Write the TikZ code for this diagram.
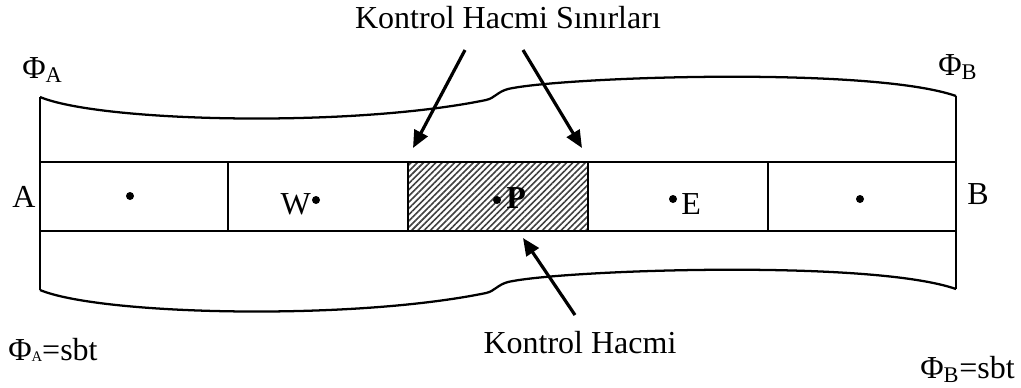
\documentclass[tikz,border=0pt]{standalone}
\usepackage{fontspec}
\setmainfont{Liberation Serif}
\usetikzlibrary{arrows.meta,patterns.meta}
\tikzset{
  borde/.style={draw=black,line width=1.7pt},
  rayado/.style={pattern={Lines[angle=45,distance=3.3pt,line width=1.2pt]},pattern color=black!75},
  flecha/.style={-{Triangle[length=13pt,width=11pt]},line width=2.4pt},
  texto/.style={font=\fontsize{24}{28}\selectfont,inner sep=0pt},
  punto/.style={circle,fill=black,inner sep=0pt,minimum size=6pt},
}
\begin{document}
\begin{tikzpicture}[x=0.75pt,y=-0.75pt]
  \useasboundingbox (0,0) rectangle (1021,387);
  % hucre P
  \fill[rayado] (408,162) rectangle (588,231);
  \foreach \xa/\xb in {40/228,228/408,408/588,588/768,768/956}
    \draw[borde] (\xa,162) rectangle (\xb,231);
  % kontrol hacmi egrileri
  \foreach \dy in {0,193}
    \draw[borde,shift={(0,\dy)}] (40,97) .. controls (100,122) and (350,128) .. (486,100)
      .. controls (495,98) and (497,92) .. (508,89)
      .. controls (560,77) and (870,66) .. (956,96);
  \draw[borde] (40,97) -- (40,290);
  \draw[borde] (956,96) -- (956,289);
  % noktalar
  \node[punto] (d1) at (130,196) {};
  \node[punto] (dW) at (316,200) {};
  \node[punto] (dP) at (497,200) {};
  \node[punto] (dE) at (673,199) {};
  \node[punto] (d5) at (860,199) {};
  \node[texto,anchor=base east] (lW) at (311,214) {W};
  \node[texto,anchor=base west] (lP) at (506,208) {\textbf{P}};
  \node[texto,anchor=base west] (lE) at (681,214) {E};
  % etiketler
  \node[texto] (lA) at (24,197) {A};
  \node[texto] (lB) at (978,194) {B};
  \node[texto,anchor=base west] (fiA) at (22,78) {Φ\textsubscript{A}};
  \node[texto,anchor=base west] (fiB) at (938,75) {Φ\textsubscript{B}};
  \node[texto,anchor=base west] (sbtA) at (8,360) {Φ\raisebox{-1pt}{\fontsize{11}{11}\selectfont A}=sbt};
  \node[texto,anchor=base west] (sbtB) at (920,378) {Φ\textsubscript{B}=sbt};
  \node[texto] (sinir) at (508,18) {Kontrol Hacmi Sınırları};
  \node[texto] (hacim) at (580,343) {Kontrol Hacmi};
  % oklar
  \coordinate (s1) at (465,50);
  \coordinate (t1) at (413,148);
  \coordinate (s2) at (523,50);
  \coordinate (t2) at (582,148);
  \coordinate (s3) at (575,315);
  \coordinate (t3) at (523,238);
  \draw[flecha] (s1) -- (t1);
  \draw[flecha] (s2) -- (t2);
  \draw[flecha] (s3) -- (t3);
\end{tikzpicture}
\end{document}
